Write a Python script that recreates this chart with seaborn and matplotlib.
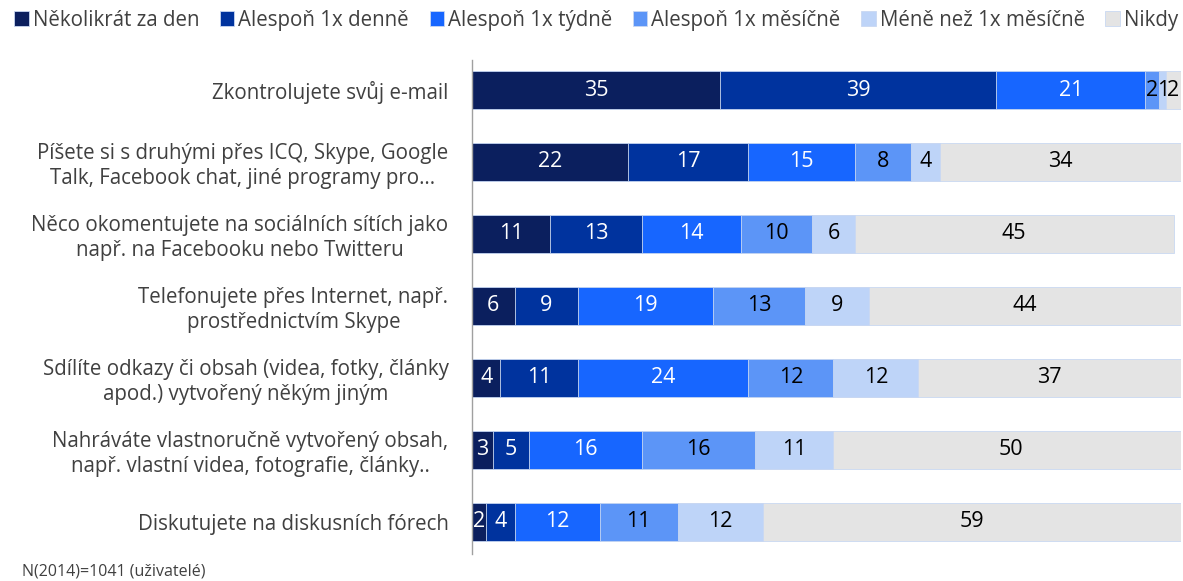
import numpy as np
import pandas as pd
import matplotlib
matplotlib.use("Agg")
import matplotlib.pyplot as plt
import seaborn as sns

activities = [
    "Zkontrolujete svůj e-mail",
    "Píšete si s druhými přes ICQ, Skype, Google\nTalk, Facebook chat, jiné programy pro…",
    "Něco okomentujete na sociálních sítích jako\nnapř. na Facebooku nebo Twitteru",
    "Telefonujete přes Internet, např.\nprostřednictvím Skype",
    "Sdílíte odkazy či obsah (videa, fotky, články\napod.) vytvořený někým jiným",
    "Nahráváte vlastnoručně vytvořený obsah,\nnapř. vlastní videa, fotografie, články..",
    "Diskutujete na diskusních fórech",
]
categories = ["Několikrát za den", "Alespoň 1x denně", "Alespoň 1x týdně",
              "Alespoň 1x měsíčně", "Méně než 1x měsíčně", "Nikdy"]

several_daily = [35, 22, 11, 6, 4, 3, 2]
daily = [39, 17, 13, 9, 11, 5, 4]
weekly = [21, 15, 14, 19, 24, 16, 12]
monthly = [2, 8, 10, 13, 12, 16, 11]
less_monthly = [1, 4, 6, 9, 12, 11, 12]
never = [2, 34, 45, 44, 37, 50, 59]

colors = ["#0b1f5e", "#00339e", "#1766ff", "#5c95f7", "#bed4f8", "#e4e4e4"]
text_colors = ["white", "white", "white", "black", "black", "black"]

df = pd.DataFrame({"activity": activities})
for cat, vals in zip(categories, [several_daily, daily, weekly, monthly, less_monthly, never]):
    df[cat] = vals

cum = df[categories].cumsum(axis=1)

sns.set_theme(style="white")
plt.rcParams["font.family"] = ["Open Sans", "DejaVu Sans"]

fig, ax = plt.subplots(figsize=(11.83, 5.81), dpi=100)
fig.subplots_adjust(left=0.399, right=0.998, top=0.907, bottom=0.040)

# stacked bars: draw cumulative totals from the back to the front
for cat, col in reversed(list(zip(categories, colors))):
    sns.barplot(x=cum[cat], y=df["activity"], color=col, orient="h",
                width=0.53, ax=ax, edgecolor="#c9d8f2", linewidth=0.6,
                saturation=1)

# value labels in the middle of each segment
for i in range(len(df)):
    left = 0
    for cat, tc in zip(categories, text_colors):
        v = df.loc[i, cat]
        ax.text(left + v / 2, i, str(v), ha="center", va="center",
                color=tc, fontsize=15.5)
        left += v

ax.set_xlim(0, 100)
ax.set_ylim(6.5, -0.5)
ax.set_xlabel("")
ax.set_ylabel("")
ax.set_xticks([])
for s in ["top", "right", "bottom"]:
    ax.spines[s].set_visible(False)
ax.spines["left"].set_color("#a0a0a0")
ax.spines["left"].set_linewidth(1)
ax.spines["left"].set_bounds(6.45, -0.42)
ax.tick_params(axis="y", length=0, pad=17, labelsize=14.8, labelcolor="#404040")
for lab in ax.get_yticklabels():
    lab.set_multialignment("center")

handles = [plt.Rectangle((0, 0), 1, 1, facecolor=c, edgecolor="#c9d8f2", linewidth=0.6)
           for c in colors]
fig.legend(handles, categories, loc="upper left", bbox_to_anchor=(0.0, 1.008),
           ncol=6, frameon=False, fontsize=14.8, handlelength=0.7, handleheight=0.7,
           handletextpad=0.2, columnspacing=1.0, borderaxespad=0.3,
           labelcolor="#404040")

fig.text(0.019, 0.01, "N(2014)=1041 (uživatelé)", fontsize=11.5, color="#404040")

fig.savefig("out.png", dpi=100)
